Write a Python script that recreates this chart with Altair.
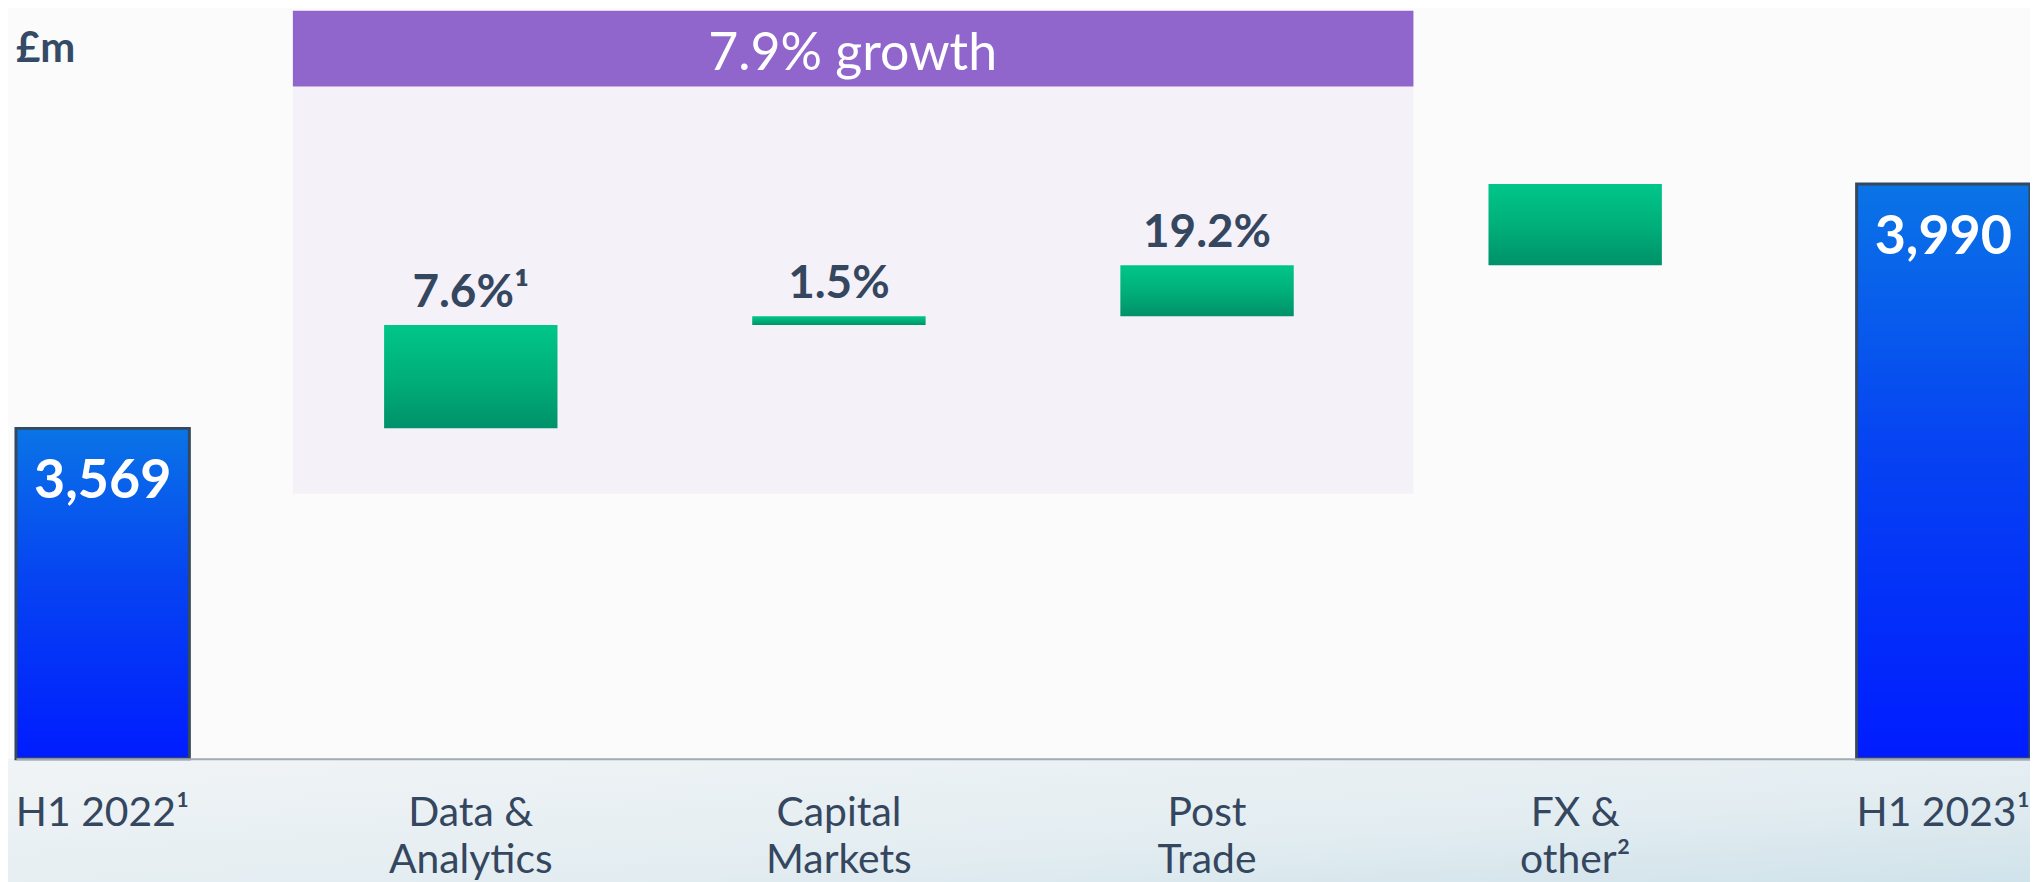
import altair as alt
import pandas as pd

# ---- data ----
categories = ["H1 2022¹", "Data &\nAnalytics", "Capital\nMarkets", "Post\nTrade", "FX &\nother²", "H1 2023¹"]
kinds = ["total", "delta", "delta", "delta", "delta", "total"]
values = [3569, 178, 15, 88, 140, 3990]           # £m
top_labels = ["", "7.6%¹", "1.5%", "19.2%", "", ""]
total_labels = ["3,569", "", "", "", "", "3,990"]
growth_text = "7.9% growth"
unit_text = "£m"
y_floor = 3000
y_ceiling = 4290

rows = []
running = 0
for c, k, v, tl, vl in zip(categories, kinds, values, top_labels, total_labels):
    if k == "total":
        lo, hi = y_floor, v
        running = v
    else:
        lo, hi = running, running + v
        running = hi
    rows.append(dict(cat=c, kind=k, lo=lo, hi=hi, top_label=tl, total_label=vl))
df = pd.DataFrame(rows)

W, H = 2022, 752
TXT = "#35465f"
FONT = "Lato"

xscale = alt.Scale(domain=categories, paddingInner=0.529, paddingOuter=0)
yscale = alt.Scale(domain=[y_floor, y_ceiling], nice=False, zero=False)

X = alt.X("cat:N", sort=categories, scale=xscale,
          axis=alt.Axis(title=None, labelExpr="split(datum.label, '\\n')", labelAngle=0,
                        labelFontSize=41, labelFont=FONT, labelColor=TXT,
                        labelBaseline="alphabetic", labelPadding=67, labelLineHeight=47,
                        tickSize=0, ticks=False, domainColor="#a3acb4", domainWidth=2,
                        labelLimit=0, zindex=2))
Y = alt.Y("lo:Q", scale=yscale, axis=None)

base = alt.Chart(df)

blue = alt.Gradient(gradient="linear", x1=0, y1=0, x2=0, y2=1,
                    stops=[alt.GradientStop(color="#0a74e6", offset=0),
                           alt.GradientStop(color="#0644f2", offset=0.45),
                           alt.GradientStop(color="#001cff", offset=1)])
green = alt.Gradient(gradient="linear", x1=0, y1=0, x2=0, y2=1,
                     stops=[alt.GradientStop(color="#00c68a", offset=0),
                            alt.GradientStop(color="#00ad78", offset=0.55),
                            alt.GradientStop(color="#00916a", offset=1)])
floor_grad = alt.Gradient(gradient="linear", x1=0, y1=0, x2=1, y2=1,
                          stops=[alt.GradientStop(color="#f1f4f6", offset=0),
                                 alt.GradientStop(color="#e3edf1", offset=0.6),
                                 alt.GradientStop(color="#cfe2ea", offset=1)])

deco = pd.DataFrame({"k": [0]})
floor = alt.Chart(deco).mark_rect(fill=floor_grad).encode(
    x=alt.value(-8), x2=alt.value(W), y=alt.value(H), y2=alt.value(H + 130))
lav = alt.Chart(deco).mark_rect(fill="#f4f1f8").encode(
    x=alt.value(278), x2=alt.value(1403), y=alt.value(77), y2=alt.value(486))
banner = alt.Chart(deco).mark_rect(fill="#9065cc").encode(
    x=alt.value(278), x2=alt.value(1403), y=alt.value(1), y2=alt.value(77))
banner_txt = alt.Chart(pd.DataFrame({"t": [growth_text]})).mark_text(
    font=FONT, fontSize=52, color="white", align="center", baseline="alphabetic").encode(
    x=alt.value(840), y=alt.value(61), text="t:N")
unit = alt.Chart(pd.DataFrame({"t": [unit_text]})).mark_text(
    font=FONT, fontSize=42, fontWeight="bold", color="#344a66", align="left", baseline="alphabetic").encode(
    x=alt.value(0), y=alt.value(52), text="t:N")

totals = base.transform_filter("datum.kind == 'total'").mark_bar(
    fill=blue, stroke="#34495e", strokeWidth=3).encode(x=X, y=Y, y2="hi:Q")
deltas = base.transform_filter("datum.kind == 'delta'").mark_bar(
    fill=green).encode(x=X, y=Y, y2="hi:Q")

top_txt = base.transform_filter("datum.top_label != ''").mark_text(
    font=FONT, fontSize=46, fontWeight="bold", color=TXT, baseline="alphabetic", dy=-18).encode(
    x=X, y=alt.Y("hi:Q", scale=yscale, axis=None), text="top_label:N")
tot_txt = base.transform_filter("datum.total_label != ''").mark_text(
    font=FONT, fontSize=54, fontWeight="bold", color="white", baseline="alphabetic", dy=70).encode(
    x=X, y=alt.Y("hi:Q", scale=yscale, axis=None), text="total_label:N")

chart = alt.layer(floor, lav, banner, banner_txt, unit, totals, deltas, top_txt, tot_txt).properties(
    width=W, height=H,
    autosize=alt.AutoSizeParams(type="none"),
    padding={"left": 8, "top": 0, "right": 0, "bottom": 122},
    background="#fbfbfc",
).configure_view(stroke=None)

chart.save("out.html", embed_options={"renderer": "svg", "actions": False})
